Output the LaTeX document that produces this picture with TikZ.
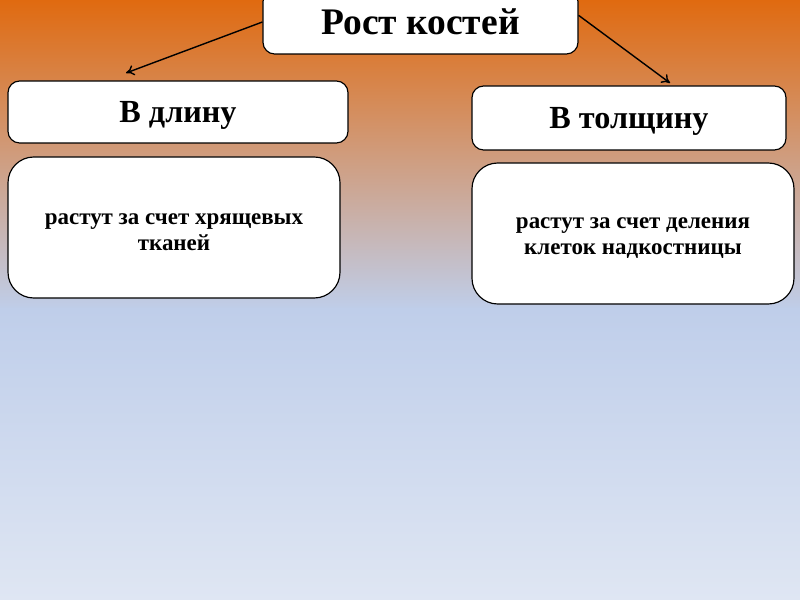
\documentclass[tikz,border=0pt]{standalone}
\usepackage{fontspec}
\setmainfont{Liberation Serif}
\usetikzlibrary{arrows.meta}
\definecolor{topOrange}{HTML}{E06A10}
\definecolor{midTan}{HTML}{D49C78}
\definecolor{paleBlue}{HTML}{BFCEEA}
\definecolor{lowBlue}{HTML}{DFE6F3}
\newcommand{\toplift}{\rule{0pt}{17pt}}

\begin{document}
\begin{tikzpicture}[x=0.03cm,y=-0.03cm,
    box/.style={draw=black,fill=white,line width=1pt,rounded corners=10pt,align=center,text height=18.2pt,text depth=0pt,
      font=\bfseries\fontsize{27.5}{30}\selectfont},
    bigbox/.style={draw=black,fill=white,line width=1pt,rounded corners=22pt,align=center,
      font=\bfseries\fontsize{19.6}{22.5}\selectfont},
    link/.style={-{To[length=7pt,width=9pt]},line width=1.2pt}]
            \useasboundingbox (0,0) rectangle (800,600);
            \clip (0,0) rectangle (800,600);
            \shade[top color=topOrange,middle color=midTan,bottom color=paleBlue] (0,0) rectangle (800,310);
            \shade[top color=paleBlue,bottom color=lowBlue] (0,309) rectangle (800,600);

            \node[box,minimum width=9.45cm,minimum height=1.92cm,text height=21.2pt,font=\bfseries\fontsize{32}{34}\selectfont] (rost) at (420.5,22) {Рост костей};
            \node[box,minimum width=10.2cm,minimum height=1.86cm] (dlina) at (178,112) {В длину};
            \node[box,minimum width=9.42cm,minimum height=1.92cm] (tolsh) at (629,118) {В толщину};
            \node[bigbox,minimum width=9.96cm,minimum height=4.23cm] (dlinatxt) at (174,227.5) {\toplift растут за счет хрящевых\\тканей};
            \node[bigbox,minimum width=9.66cm,minimum height=4.23cm] (tolshtxt) at (633,233.5) {\toplift растут за счет деления\\клеток надкостницы};

            \coordinate (ltip) at (126,73);
            \coordinate (rtip) at (670,83);
            \draw[link] (rost.west) -- (ltip);
            \draw[link] ([yshift=0.2cm]rost.east) -- (rtip);
          \end{tikzpicture}
\end{document}
